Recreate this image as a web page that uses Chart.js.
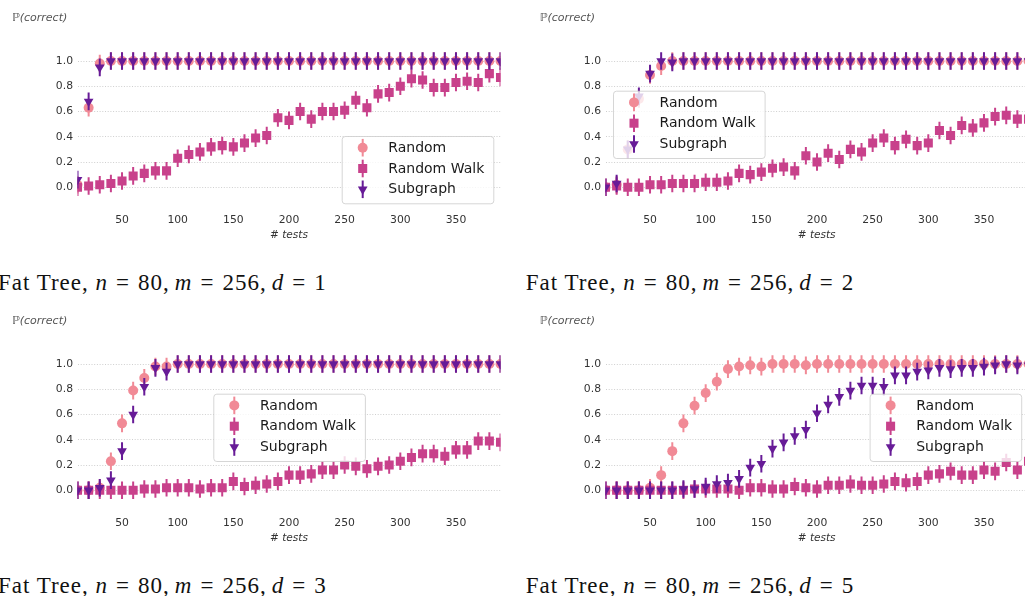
<!DOCTYPE html>
<html>
<head>
<meta charset="utf-8">
<script src="https://cdn.jsdelivr.net/npm/chart.js@4.4.1/dist/chart.umd.min.js"></script>
<style>
  html, body { margin: 0; padding: 0; background: #fff; }
  body { width: 1025px; height: 596px; overflow: hidden; position: relative; }
  .panel { position: absolute; width: 528px; height: 300px; }
  .panel canvas { position: absolute; left: 0; top: 0; }
  .ylab { position: absolute; left: 12px; top: 11px; font: italic 11px "DejaVu Sans"; color: #555; white-space: nowrap; }
  .xlab { position: absolute; left: 239px; width: 100px; top: 228px; text-align: center; font: italic 10.5px "DejaVu Sans"; color: #333; }
  .cap { position: absolute; left: -2px; top: 270px; font: 23px "Liberation Serif"; letter-spacing: 1px; color: #111; white-space: nowrap; }
  .cap i { font-style: italic; }
  .cap .eq { margin: 0 8px; }
  .cap .gap { margin-left: 5px; }
</style>
</head>
<body>
<script>
// ─── DATA ────────────────────────────────────────────────
const TESTS = [10, 20, 30, 40, 50, 60, 70, 80, 90, 100, 110, 120, 130, 140, 150, 160, 170, 180, 190, 200,
               210, 220, 230, 240, 250, 260, 270, 280, 290, 300, 310, 320, 330, 340, 350, 360, 370, 380, 390];
const X_TICKS = [50, 100, 150, 200, 250, 300, 350];
const Y_TICKS = [0.0, 0.2, 0.4, 0.6, 0.8, 1.0];
const SERIES = ['Random', 'Random Walk', 'Subgraph'];
const DEPTHS = [1, 2, 3, 5];
const ERR = 0.07;   // half length of the error bars

// d = 1
const RANDOM_D1 = [0.02, 0.63, 0.98, 1, 1, 1, 1, 1, 1, 1, 1, 1, 1, 1, 1, 1, 1, 1, 1, 1,
                   1, 1, 1, 1, 1, 1, 1, 1, 1, 1, 1, 1, 1, 1, 1, 1, 1, 1, 1];
const WALK_D1 = [0.00, 0.01, 0.02, 0.03, 0.05, 0.09, 0.11, 0.13, 0.13, 0.23, 0.26, 0.28, 0.32, 0.33, 0.32, 0.35, 0.39, 0.41, 0.55, 0.53,
                 0.60, 0.54, 0.60, 0.60, 0.61, 0.69, 0.63, 0.74, 0.75, 0.80, 0.86, 0.85, 0.79, 0.79, 0.83, 0.84, 0.83, 0.90, 0.87];
const SUB_D1 = [0.06, 0.68, 0.95, 1, 1, 1, 1, 1, 1, 1, 1, 1, 1, 1, 1, 1, 1, 1, 1, 1,
                1, 1, 1, 1, 1, 1, 1, 1, 1, 1, 1, 1, 1, 1, 1, 1, 1, 1, 1];

// d = 2
const RANDOM_D2 = [0.00, 0.02, 0.30, 0.70, 0.89, 0.96, 1, 1, 1, 1, 1, 1, 1, 1, 1, 1, 1, 1, 1, 1,
                   1, 1, 1, 1, 1, 1, 1, 1, 1, 1, 1, 1, 1, 1, 1, 1, 1, 1, 1];
const WALK_D2 = [0.00, 0.01, 0.00, 0.00, 0.02, 0.02, 0.03, 0.03, 0.03, 0.04, 0.04, 0.05, 0.11, 0.10, 0.12, 0.15, 0.16, 0.13, 0.25, 0.20,
                 0.27, 0.22, 0.30, 0.28, 0.35, 0.39, 0.33, 0.38, 0.33, 0.35, 0.45, 0.41, 0.49, 0.47, 0.51, 0.56, 0.57, 0.54, 0.54];
const SUB_D2 = [0.00, 0.03, 0.30, 0.72, 0.90, 1.00, 0.99, 1, 1, 1, 1, 1, 1, 1, 1, 1, 1, 1, 1, 1,
                1, 1, 1, 1, 1, 1, 1, 1, 1, 1, 1, 1, 1, 1, 1, 1, 1, 1, 1];

// d = 3
const RANDOM_D3 = [0.00, 0.00, 0.02, 0.23, 0.53, 0.79, 0.89, 0.98, 0.98, 1, 1, 1, 1, 1, 1, 1, 1, 1, 1, 1,
                   1, 1, 1, 1, 1, 1, 1, 1, 1, 1, 1, 1, 1, 1, 1, 1, 1, 1, 1];
const WALK_D3 = [0.00, 0.00, 0.00, 0.00, 0.00, 0.00, 0.01, 0.01, 0.02, 0.02, 0.02, 0.01, 0.02, 0.02, 0.07, 0.03, 0.04, 0.05, 0.07, 0.12,
                 0.12, 0.13, 0.16, 0.16, 0.20, 0.19, 0.17, 0.19, 0.20, 0.23, 0.26, 0.29, 0.29, 0.27, 0.32, 0.32, 0.39, 0.39, 0.38];
const SUB_D3 = [0.00, 0.00, 0.02, 0.08, 0.31, 0.60, 0.82, 0.97, 0.94, 1, 1, 1, 1, 1, 1, 1, 1, 1, 1, 1,
                1, 1, 1, 1, 1, 1, 1, 1, 1, 1, 1, 1, 1, 1, 1, 1, 1, 1, 1];

// d = 5
const RANDOM_D5 = [0.00, 0.00, 0.00, 0.00, 0.02, 0.12, 0.31, 0.53, 0.67, 0.77, 0.86, 0.96, 0.98, 0.99, 0.98, 1.00, 1.00, 1.00, 0.99, 1.00,
                   1, 1, 1, 1, 1, 1, 1, 1, 1, 1, 1, 1, 1, 1, 1, 1, 1, 1, 1];
const WALK_D5 = [0.00, 0.00, 0.00, 0.00, 0.00, 0.00, 0.00, 0.00, 0.01, 0.01, 0.01, 0.01, 0.00, 0.02, 0.02, 0.01, 0.01, 0.03, 0.02, 0.01,
                 0.04, 0.04, 0.05, 0.04, 0.04, 0.05, 0.07, 0.06, 0.07, 0.12, 0.13, 0.15, 0.12, 0.12, 0.16, 0.15, 0.22, 0.16, 0.23];
const SUB_D5 = [0.00, 0.00, 0.00, 0.00, 0.00, 0.00, 0.00, 0.01, 0.01, 0.03, 0.05, 0.06, 0.09, 0.18, 0.21, 0.33, 0.38, 0.43, 0.48, 0.61,
                0.68, 0.74, 0.79, 0.83, 0.83, 0.82, 0.91, 0.91, 0.94, 0.95, 0.97, 0.96, 0.97, 0.97, 0.98, 0.99, 1.00, 0.99, 0.99];

const PANEL_DATA = [
  [RANDOM_D1, WALK_D1, SUB_D1],
  [RANDOM_D2, WALK_D2, SUB_D2],
  [RANDOM_D3, WALK_D3, SUB_D3],
  [RANDOM_D5, WALK_D5, SUB_D5]
];

// ─── LOOK ────────────────────────────────────────────────
const COLORS = ['#f18a96', '#c8418b', '#671b97'];
const STYLES = [
  { pointStyle: 'circle',   radius: 5,   rotation: 0 },
  { pointStyle: 'rect',     radius: 6.4, rotation: 0 },
  { pointStyle: 'triangle', radius: 5.6, rotation: 180 }
];
const PANEL_POS = [ { left: 0, top: 0 }, { left: 527.7, top: 0 }, { left: 0, top: 303.3 }, { left: 527.7, top: 303.3 } ];
const LEGEND_POS = [ { x: 341.7, y: 136 }, { x: 85, y: 90.7 }, { x: 213.3, y: 90.7 }, { x: 341.6, y: 90.7 } ];

// ─── PLUGINS ─────────────────────────────────────────────
const errorBars = {
  id: 'errorBars',
  beforeDatasetDraw(chart, args) {
    const ds = chart.data.datasets[args.index];
    const { ctx, chartArea: a, scales: { x, y } } = chart;
    ctx.save();
    ctx.beginPath();
    ctx.rect(a.left, 0, a.right - a.left, chart.height);
    ctx.clip();
    ctx.strokeStyle = ds.backgroundColor;
    ctx.lineWidth = 2;
    ds.data.forEach(p => {
      const px = x.getPixelForValue(p.x);
      ctx.beginPath();
      ctx.moveTo(px, y.getPixelForValue(p.y - ERR));
      ctx.lineTo(px, y.getPixelForValue(p.y + ERR));
      ctx.stroke();
    });
    ctx.restore();
  }
};

function marker(ctx, st, cx, cy) {
  ctx.beginPath();
  if (st.pointStyle === 'circle') {
    ctx.arc(cx, cy, st.radius, 0, Math.PI * 2);
  } else if (st.pointStyle === 'rect') {
    const s = st.radius * Math.SQRT1_2;
    ctx.rect(cx - s, cy - s, 2 * s, 2 * s);
  } else {
    const r = st.radius;
    ctx.moveTo(cx, cy + r);
    ctx.lineTo(cx - r * 0.866, cy - r / 2);
    ctx.lineTo(cx + r * 0.866, cy - r / 2);
    ctx.closePath();
  }
  ctx.fill();
}

const boxLegend = {
  id: 'boxLegend',
  afterDraw(chart, args, opts) {
    const { ctx } = chart;
    const bx = opts.x, by = opts.y, w = 151.6, h = 67.3;
    ctx.save();
    ctx.beginPath();
    ctx.roundRect(bx + 0.5, by + 0.5, w, h, 3);
    ctx.fillStyle = 'rgba(255,255,255,0.8)';
    ctx.fill();
    ctx.strokeStyle = 'rgba(204,204,204,0.8)';
    ctx.lineWidth = 1;
    ctx.stroke();
    ctx.font = '14px "DejaVu Sans"';
    ctx.textBaseline = 'middle';
    chart.data.datasets.forEach((ds, i) => {
      const cx = bx + 21, cy = by + 11.7 + i * 20.8;
      ctx.strokeStyle = ds.backgroundColor;
      ctx.fillStyle = ds.backgroundColor;
      ctx.lineWidth = 2;
      ctx.beginPath();
      ctx.moveTo(cx, cy - 8.8);
      ctx.lineTo(cx, cy + 8.8);
      ctx.stroke();
      marker(ctx, STYLES[i], cx, cy);
      ctx.fillStyle = '#1a1a1a';
      ctx.fillText(ds.label, bx + 46.6, cy + 0.5);
    });
    ctx.restore();
  }
};

// ─── BUILD ───────────────────────────────────────────────
function buildPanel(k) {
  const div = document.createElement('div');
  div.className = 'panel';
  div.style.left = PANEL_POS[k].left + 'px';
  div.style.top = PANEL_POS[k].top + 'px';
  div.innerHTML = `
    <canvas width="528" height="240"></canvas>
    <div class="ylab">ℙ(correct)</div>
    <div class="xlab"># tests</div>
    <div class="cap">Fat Tree, <i>n</i><span class="eq">=</span>80,<span class="gap"></span><i>m</i><span class="eq">=</span>256,<span class="gap"></span><i>d</i><span class="eq">=</span>${DEPTHS[k]}</div>`;
  document.body.appendChild(div);

  const datasets = SERIES.map((name, i) => ({
    label: name,
    data: TESTS.map((t, j) => ({ x: t, y: PANEL_DATA[k][i][j] })),
    backgroundColor: COLORS[i],
    borderWidth: 0,
    pointStyle: STYLES[i].pointStyle,
    pointRadius: STYLES[i].radius,
    pointHoverRadius: STYLES[i].radius,
    pointRotation: STYLES[i].rotation,
    showLine: false,
    order: 3 - i,
    clip: { left: 0, right: 0, top: false, bottom: false }
  }));

  new Chart(div.querySelector('canvas'), {
    type: 'scatter',
    data: { datasets },
    options: {
      responsive: false,
      animation: false,
      events: [],
      layout: { padding: { left: 0, right: 27.5, top: 48.4, bottom: 0 } },
      plugins: {
        legend: { display: false },
        tooltip: { enabled: false },
        boxLegend: LEGEND_POS[k]
      },
      scales: {
        x: {
          type: 'linear', min: 10, max: 390,
          afterBuildTicks: s => { s.ticks = X_TICKS.map(v => ({ value: v })); },
          afterFit: s => { s.height = 40.1; },
          grid: { display: false },
          border: { display: false },
          ticks: { padding: 6, color: '#333', font: { family: 'DejaVu Sans', size: 10.8 } }
        },
        y: {
          min: -0.1, max: 1.1,
          afterBuildTicks: s => { s.ticks = Y_TICKS.map(v => ({ value: v })); },
          afterFit: s => { s.width = 77.5; },
          grid: { color: '#cfcfcf', lineWidth: 1, drawTicks: false },
          border: { display: false, dash: [1, 1.7] },
          ticks: { padding: 4.5, color: '#333', font: { family: 'DejaVu Sans', size: 10.8 },
                   callback: v => v.toFixed(1) }
        }
      }
    },
    plugins: [errorBars, boxLegend]
  });
}

DEPTHS.forEach((d, k) => buildPanel(k));
</script>
</body>
</html>
